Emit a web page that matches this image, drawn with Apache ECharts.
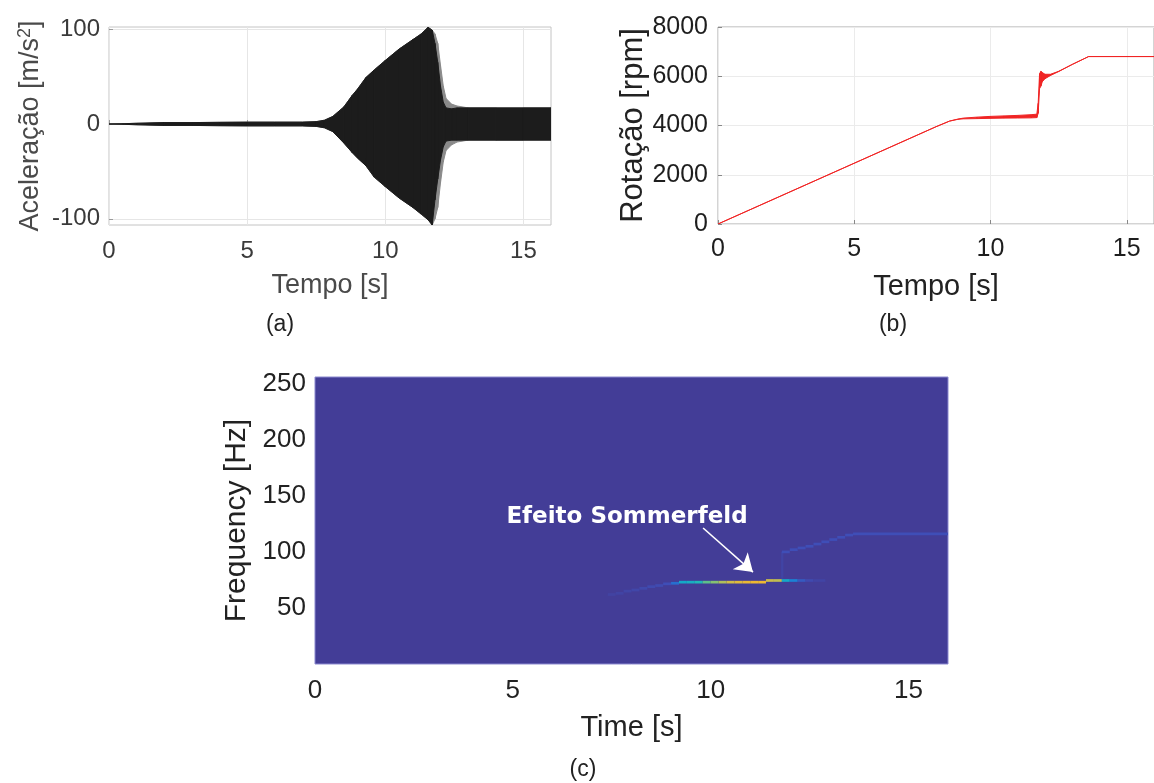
<!DOCTYPE html>
<html><head><meta charset="utf-8">
<script src="https://cdn.jsdelivr.net/npm/echarts@6/dist/echarts.min.js"></script>
<style>html,body{margin:0;padding:0;background:#fff}#c{width:1154px;height:783px}</style>
</head><body><div id="c"></div>
<script>
// ---------- (a) acceleration envelope [m/s^2] ----------
const accTime  = [0, 0.5, 1, 2, 3, 4, 5, 6, 7, 7.5, 7.8, 8.1, 8.5, 8.8, 9.0, 9.3, 9.6, 10.0, 10.5, 11.0, 11.3, 11.55, 11.7, 11.8, 11.9, 12.0, 12.1, 12.2, 12.4, 12.6, 13, 14, 15, 16];
const accUpper = [0, 0.3, 0.8, 1.5, 1.5, 1.8, 2, 2, 2, 2.5, 4, 8, 18, 30, 37, 49, 57, 67, 79, 89, 95, 102, 99, 85, 65, 40, 23, 17, 16, 17, 17, 17, 17, 17];
const accLower = [0, -0.3, -0.8, -1.5, -1.5, -1.8, -2, -2, -2, -2.5, -4, -8, -20, -30, -36, -44, -56, -66, -78, -88, -95, -101, -106.5, -80, -58, -38, -24, -18, -17, -17, -17, -17, -17, -17];
const accFringeUpper = [0, 0.3, 0.8, 1.5, 1.5, 1.8, 2, 2, 2, 2.5, 4, 8, 18, 30, 37, 49, 57, 67, 79, 89, 95, 102, 99, 95, 85, 62, 40, 27, 21, 19, 17, 17, 17, 17];
const accFringeLower = [0, -0.3, -0.8, -1.5, -1.5, -1.8, -2, -2, -2, -2.5, -4, -8, -20, -30, -36, -44, -56, -66, -78, -88, -95, -101, -106.5, -100, -88, -62, -40, -28, -22, -19, -17, -17, -17, -17];

// ---------- (b) rotation envelope [rpm] ----------
const rotTime  = [0, 8.0, 8.5, 8.8, 9.0, 9.5, 10.0, 10.5, 11.0, 11.5, 11.7, 11.75, 11.8, 11.85, 11.9, 12.0, 12.2, 12.5, 13.0, 13.6, 16];
const rotUpper = [0, 3950, 4180, 4260, 4300, 4340, 4370, 4390, 4410, 4440, 4460, 4900, 6100, 6200, 6150, 6080, 6080, 6200, 6480, 6800, 6800];
const rotLower = [0, 3950, 4180, 4250, 4270, 4280, 4290, 4300, 4305, 4310, 4320, 4500, 5500, 5600, 5780, 5900, 6030, 6190, 6480, 6800, 6800];

// ---------- (c) spectrogram ridge segments ----------
const segStart = [7.4, 7.6, 7.8, 8.0, 8.2, 8.4, 8.6, 8.8, 9.0, 9.2, 9.4, 9.6, 9.8, 10.0, 10.2, 10.4, 10.6, 10.8, 11.0, 11.2, 11.4, 11.6, 11.8, 12.0, 12.2, 12.4, 12.6, 11.78, 11.8, 12.0, 12.2, 12.4, 12.6, 12.8, 13.0, 13.2, 13.4, 13.6];
const segEnd   = [7.6, 7.8, 8.0, 8.2, 8.4, 8.6, 8.8, 9.0, 9.2, 9.4, 9.6, 9.8, 10.0, 10.2, 10.4, 10.6, 10.8, 11.0, 11.2, 11.4, 11.6, 11.8, 12.0, 12.2, 12.4, 12.6, 12.9, 11.84, 12.0, 12.2, 12.4, 12.6, 12.8, 13.0, 13.2, 13.4, 13.6, 16.0];
const segFreq  = [62, 63, 65, 66, 67.5, 69, 70, 71.5, 72, 73, 73, 73, 73, 73, 73, 73, 73, 73, 73, 73, 74.5, 74.5, 74.5, 74.5, 74.5, 74.5, 74.5, 88, 100, 102, 103.5, 105, 107, 109, 111, 113, 115, 116];
const segLevel = [0.04, 0.05, 0.06, 0.07, 0.08, 0.09, 0.1, 0.12, 0.22, 0.42, 0.45, 0.5, 0.6, 0.66, 0.72, 0.78, 0.82, 0.85, 0.86, 0.86, 0.76, 0.74, 0.42, 0.28, 0.16, 0.09, 0.05, 0.05, 0.12, 0.12, 0.12, 0.12, 0.12, 0.12, 0.12, 0.12, 0.12, 0.12];
const segHeight = [2.4, 2.4, 2.4, 2.4, 2.4, 2.4, 2.4, 2.4, 2.4, 2.4, 2.4, 2.4, 2.4, 2.4, 2.4, 2.4, 2.4, 2.4, 2.4, 2.4, 2.4, 2.4, 2.4, 2.4, 2.4, 2.4, 2.4, 24, 2.4, 2.4, 2.4, 2.4, 2.4, 2.4, 2.4, 2.4, 2.4, 2.4];
const arrowTime = [9.81, 11.07];
const arrowFreq = [121.3, 82];

// ---------- ticks ----------
const timeTicks = [0, 5, 10, 15];
const accTicks  = [-100, 0, 100];
const freqTicks = [50, 100, 150, 200, 250];

const FONT = '"Liberation Sans", Arial, Helvetica, sans-serif';
const chart = echarts.init(document.getElementById('c'), null, {renderer: 'canvas'});

function pairs(xs, ys) { return xs.map((x, i) => [x, ys[i]]); }

// band between an upper and a lower envelope, drawn through the axis scales
function band(axisIdx, times, up, lo, color, z) {
  return {
    type: 'custom', xAxisIndex: axisIdx, yAxisIndex: axisIdx, z: z, clip: true,
    encode: {x: 0, y: [1, 2]},
    data: times.map((t, i) => [t, up[i], lo[i]]),
    renderItem: function (params, api) {
      const i = params.dataIndexInside;
      if (i >= params.dataInsideLength - 1) return null;
      const a = api.coord([api.value(0, i), api.value(1, i)]);
      const b = api.coord([api.value(0, i + 1), api.value(1, i + 1)]);
      const c = api.coord([api.value(0, i + 1), api.value(2, i + 1)]);
      const d = api.coord([api.value(0, i), api.value(2, i)]);
      return {type: 'polygon', shape: {points: [a, b, c, d]},
        style: {fill: color, stroke: color, lineWidth: 1}};
    }
  };
}

const parula = ['#433d97', '#3f4fb8', '#1f78d6', '#0ea0d0', '#1fb8b8', '#6cc27e', '#c6bd4e', '#f2b72e', '#f6d11e'];

chart.setOption({
  animation: false,
  backgroundColor: '#ffffff',
  textStyle: {fontFamily: FONT},
  grid: [
    {left: 109, top: 27, width: 442, height: 198, show: true, borderColor: '#c4c4c4', borderWidth: 1},
    {left: 718, top: 27, width: 447, height: 197, show: true, borderColor: '#a8a8a8', borderWidth: 1},
    {left: 315, top: 377, width: 633, height: 287, show: true, backgroundColor: '#433d97', borderColor: '#8b89cf', borderWidth: 1}
  ],
  xAxis: [
    {gridIndex: 0, type: 'value', min: 0, max: 16,
      name: 'Tempo [s]', nameLocation: 'middle', nameGap: 47,
      nameTextStyle: {fontSize: 27, color: '#4a4a4a', fontFamily: FONT},
      axisLine: {show: false},
      axisTick: {inside: true, length: 4, customValues: timeTicks, lineStyle: {color: '#9a9a9a'}},
      axisLabel: {customValues: timeTicks, fontSize: 24, color: '#3a3a3a', margin: 14, fontFamily: FONT},
      splitLine: {show: true, customValues: timeTicks, lineStyle: {color: '#e6e6e6', width: 1}}},
    {gridIndex: 1, type: 'value', min: 0, max: 16,
      name: 'Tempo [s]', nameLocation: 'middle', nameGap: 48,
      nameTextStyle: {fontSize: 29, color: '#222', fontFamily: FONT},
      axisLine: {show: false},
      axisTick: {inside: true, length: 4, customValues: timeTicks, lineStyle: {color: '#888'}},
      axisLabel: {customValues: timeTicks, fontSize: 25, color: '#1e1e1e', margin: 13, fontFamily: FONT},
      splitLine: {show: true, customValues: timeTicks, lineStyle: {color: '#ebebeb', width: 1}}},
    {gridIndex: 2, type: 'value', min: 0, max: 16,
      name: 'Time [s]', nameLocation: 'middle', nameGap: 49,
      nameTextStyle: {fontSize: 29, color: '#222', fontFamily: FONT},
      axisLine: {show: false}, axisTick: {show: false}, splitLine: {show: false},
      axisLabel: {customValues: timeTicks, fontSize: 26, color: '#222', margin: 14, fontFamily: FONT}}
  ],
  yAxis: [
    {gridIndex: 0, type: 'value', min: -106.5, max: 102.3,
      name: 'Aceleração [m/s{sup|2}]', nameLocation: 'middle', nameGap: 63,
      nameTextStyle: {fontSize: 27, color: '#4a4a4a', fontFamily: FONT,
        rich: {sup: {fontSize: 18, color: '#4a4a4a', fontFamily: FONT, verticalAlign: 'top', padding: [0, 0, 12, 0]}}},
      axisLine: {show: false},
      axisTick: {inside: true, length: 4, customValues: accTicks, lineStyle: {color: '#9a9a9a'}},
      axisLabel: {customValues: accTicks, fontSize: 24, color: '#3a3a3a', margin: 9, fontFamily: FONT},
      splitLine: {show: true, customValues: accTicks, lineStyle: {color: '#e6e6e6', width: 1}}},
    {gridIndex: 1, type: 'value', min: 0, max: 8000, interval: 2000,
      name: 'Rotação [rpm]', nameLocation: 'middle', nameGap: 58,
      nameTextStyle: {fontSize: 31, color: '#222', fontFamily: FONT},
      axisLine: {show: false},
      axisTick: {inside: true, length: 4, lineStyle: {color: '#888'}},
      axisLabel: {fontSize: 25, color: '#1e1e1e', margin: 10, fontFamily: FONT,
        formatter: function (v) { return String(v); }},
      splitLine: {show: true, lineStyle: {color: '#ebebeb', width: 1}}},
    {gridIndex: 2, type: 'value', min: 0, max: 256,
      name: 'Frequency [Hz]', nameLocation: 'middle', nameGap: 60,
      nameTextStyle: {fontSize: 30, color: '#222', fontFamily: FONT},
      axisLine: {show: false}, axisTick: {show: false}, splitLine: {show: false},
      axisLabel: {customValues: freqTicks, fontSize: 26, color: '#222', margin: 9, fontFamily: FONT}}
  ],
  visualMap: [{
    type: 'continuous', show: false, seriesIndex: 3, dimension: 3, min: 0, max: 1,
    inRange: {color: parula}
  }],
  series: [
    band(0, accTime, accFringeUpper, accFringeLower, '#8a8a8a', 2),
    band(0, accTime, accUpper, accLower, '#1c1c1c', 3),
    band(1, rotTime, rotUpper, rotLower, '#f02424', 3),
    {type: 'custom', xAxisIndex: 2, yAxisIndex: 2, clip: true,
      encode: {x: [0, 1], y: 2},
      data: segStart.map((s, i) => [s, segEnd[i], segFreq[i], segLevel[i], segHeight[i]]),
      renderItem: function (params, api) {
        const h = api.value(4) / 2;
        const p0 = api.coord([api.value(0), api.value(2) + h]);
        const p1 = api.coord([api.value(1), api.value(2) - h]);
        return {type: 'rect',
          shape: {x: p0[0], y: p0[1], width: p1[0] - p0[0], height: p1[1] - p0[1]},
          style: {fill: api.visual('color')}};
      }},
    {type: 'lines', coordinateSystem: 'cartesian2d', xAxisIndex: 2, yAxisIndex: 2, z: 10,
      symbol: ['none', 'arrow'], symbolSize: 17,
      lineStyle: {color: '#ffffff', width: 1.6, opacity: 1, curveness: 0},
      data: [{coords: pairs(arrowTime, arrowFreq)}]}
  ],
  graphic: [
    {type: 'text', x: 627, y: 517, z: 100, style: {text: 'Efeito Sommerfeld', fill: '#ffffff',
      font: 'bold 23px "DejaVu Sans", Verdana, sans-serif', align: 'center', verticalAlign: 'middle'}},
    {type: 'text', x: 280, y: 325, style: {text: '(a)', fill: '#222', font: '23px ' + FONT, align: 'center', verticalAlign: 'middle'}},
    {type: 'text', x: 893, y: 325, style: {text: '(b)', fill: '#222', font: '23px ' + FONT, align: 'center', verticalAlign: 'middle'}},
    {type: 'text', x: 583, y: 770, style: {text: '(c)', fill: '#222', font: '23px ' + FONT, align: 'center', verticalAlign: 'middle'}}
  ]
});
</script></body></html>
